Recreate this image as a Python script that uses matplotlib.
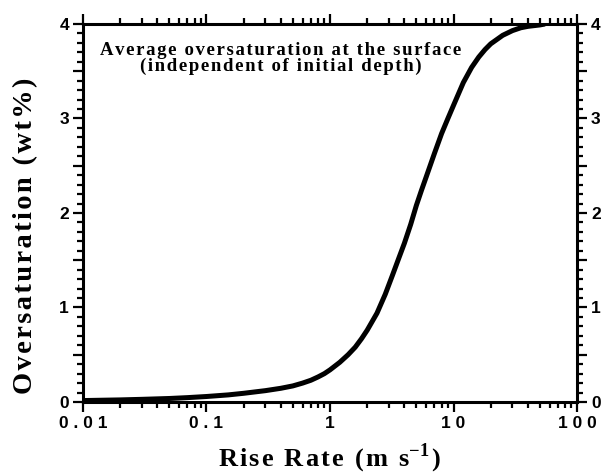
import matplotlib
matplotlib.use("Agg")
import matplotlib.pyplot as plt
from matplotlib.ticker import LogLocator, MultipleLocator, FixedFormatter, FixedLocator, NullFormatter

# dane
rise_rate = [0.01, 0.02, 0.03, 0.05, 0.07, 0.1, 0.15, 0.2, 0.3, 0.4, 0.5, 0.6, 0.7, 0.8,
             0.9, 1.0, 1.2, 1.4, 1.6, 1.8, 2.0, 2.4, 2.8, 3.2, 3.6, 4.0, 4.5, 5.0, 5.5,
             6.0, 7.0, 8.0, 9.0, 10.0, 12.0, 14.0, 16.0, 18.0, 20.0, 25.0, 30.0, 35.0,
             40.0, 50.0, 55.0]
oversat = [0.015, 0.022, 0.028, 0.037, 0.046, 0.058, 0.075, 0.092, 0.12, 0.145, 0.17, 0.2,
           0.23, 0.265, 0.3, 0.34, 0.42, 0.5, 0.58, 0.67, 0.76, 0.94, 1.14, 1.34, 1.52,
           1.68, 1.88, 2.08, 2.24, 2.38, 2.63, 2.84, 3.0, 3.14, 3.38, 3.54, 3.65, 3.73,
           3.79, 3.88, 3.93, 3.96, 3.975, 3.99, 4.0]

x_ticks = [0.01, 0.1, 1, 10, 100]
x_labels = ["0 . 0 1", "0 . 1", "1", "1 0", "1 0 0"]
y_labels = {0: "0", 1: "1", 2: "2", 3: "3", 4: "4"}

serif = ["Liberation Serif", "DejaVu Serif"]
sans = ["Liberation Sans", "DejaVu Sans"]

plt.rcParams["mathtext.fontset"] = "custom"
plt.rcParams["mathtext.rm"] = "Liberation Serif:bold"
plt.rcParams["mathtext.bf"] = "Liberation Serif:bold"

HAIR = "\u200a"


def spaced(text, gap=HAIR):
    # lekko rozstrzelony tekst jak w oryginale
    return gap.join(text)


fig = plt.figure(figsize=(6.03, 4.76), dpi=100)
ax = fig.add_axes([0.1376, 0.1555, 0.8194, 0.7941])

ax.plot(rise_rate, oversat, color="black", linewidth=3.6, solid_capstyle="butt",
        solid_joinstyle="round")

ax.set_xscale("log")
ax.set_xlim(0.01, 100)
ax.set_ylim(0, 4)

ax.xaxis.set_major_locator(FixedLocator(x_ticks))
ax.xaxis.set_major_formatter(FixedFormatter(x_labels))
ax.xaxis.set_minor_locator(LogLocator(base=10, subs=range(2, 10)))
ax.xaxis.set_minor_formatter(NullFormatter())

# etykiety tylko przy liczbach calkowitych, dluzsze kreski co 0.5
ax.yaxis.set_major_locator(MultipleLocator(0.5))
ax.yaxis.set_major_formatter(plt.FuncFormatter(lambda v, p: y_labels.get(v, "")))
ax.yaxis.set_minor_locator(MultipleLocator(0.1))

ax.tick_params(which="both", direction="out", top=True, right=True,
               labelright=True, width=1.6, color="black")
ax.tick_params(which="major", length=7, pad=3)
ax.tick_params(which="minor", length=4)

for lab in ax.get_xticklabels() + ax.get_yticklabels():
    lab.set_family(sans)
    lab.set_fontweight("bold")
    lab.set_fontsize(12.5)

for sp in ax.spines.values():
    sp.set_linewidth(2.2)

ax.set_xlabel(spaced("Rise Rate (m s") + r"$^{-1}$" + HAIR + ")",
              family=serif, fontweight="bold", fontsize=19)
ax.set_ylabel(spaced("Oversaturation (wt%)"),
              family=serif, fontweight="bold", fontsize=20.5)
ax.xaxis.label.set_va("center")
ax.yaxis.label.set_va("center")
ax.xaxis.set_label_coords(0.5, -0.148)
ax.yaxis.set_label_coords(-0.117, 0.44)

line1 = spaced("Average oversaturation at the surface")
line2 = spaced("(independent of initial depth)")
ax.text(0.40, 0.91, line1 + "\n" + line2,
        transform=ax.transAxes, ha="center", va="center", family=serif,
        fontweight="bold", fontsize=13.5, linespacing=0.9, multialignment="center")

fig.savefig("out.png", dpi=100)
